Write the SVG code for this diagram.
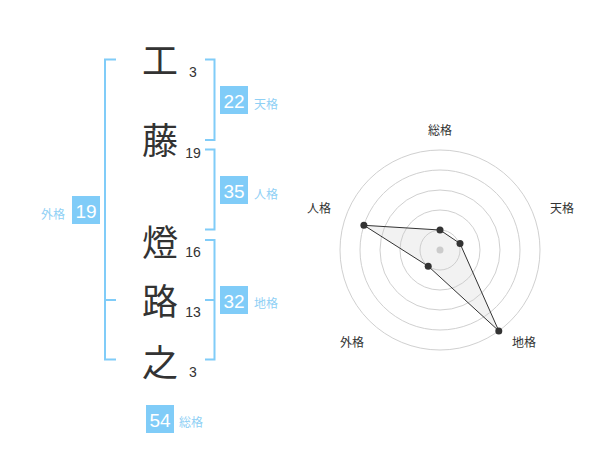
<svg xmlns="http://www.w3.org/2000/svg" width="600" height="470" viewBox="0 0 600 470">
<style>
.bg{fill:#fff}
.br{fill:none;stroke:#80ccf8;stroke-width:2}
.box{fill:#80ccf8}
.bn{font-family:"Liberation Sans","Noto Sans CJK JP",sans-serif;font-size:19px;fill:#fff;text-anchor:middle}
.bl{font-family:"Noto Sans CJK JP",sans-serif;font-size:12px;fill:#8fd0f5}
.ch{font-family:"Noto Sans CJK JP",sans-serif;font-size:36px;fill:#333;text-anchor:middle}
.sn{font-family:"Liberation Sans",sans-serif;font-size:14px;fill:#333;text-anchor:middle}
.ring{fill:none;stroke:#d0d0d0;stroke-width:1}
.rl{font-family:"Noto Sans CJK JP",sans-serif;font-size:12px;fill:#333;text-anchor:middle}
.pt{fill:#333}
</style>
<rect class="bg" x="0" y="0" width="600" height="470"/>
<g id="connectors">
<path class="br" d="M116,59.5 H105 V359.5 H116 M105,300 H116"/>
<path class="br" d="M205,59.5 H214.5 V140 H205"/>
<path class="br" d="M205,149.5 H214.5 V229.5 H205"/>
<path class="br" d="M205,240 H214.5 V359.5 H205 M205,300 H214.5"/>
</g>
<g id="char-1"><text class="ch" x="160" y="74">工</text><text class="sn" x="193" y="77">3</text></g>
<g id="char-2"><text class="ch" x="160" y="154">藤</text><text class="sn" x="193" y="157.5">19</text></g>
<g id="char-3"><text class="ch" x="160" y="256">燈</text><text class="sn" x="193" y="257">16</text></g>
<g id="char-4"><text class="ch" x="160" y="315">路</text><text class="sn" x="193" y="317">13</text></g>
<g id="char-5"><text class="ch" x="160" y="376">之</text><text class="sn" x="193" y="377">3</text></g>
<g id="tenkaku"><rect class="box" x="220" y="86" width="28" height="28"/><text class="bn" x="234" y="108">22</text><text class="bl" x="254" y="108.5">天格</text></g>
<g id="jinkaku"><rect class="box" x="220" y="176" width="28" height="28"/><text class="bn" x="234" y="198">35</text><text class="bl" x="254" y="198.5">人格</text></g>
<g id="chikaku"><rect class="box" x="220" y="286" width="28" height="28"/><text class="bn" x="234" y="308">32</text><text class="bl" x="254" y="308">地格</text></g>
<g id="gaikaku"><rect class="box" x="72" y="196" width="28" height="28"/><text class="bn" x="86" y="218">19</text><text class="bl" x="41" y="218.5">外格</text></g>
<g id="soukaku"><rect class="box" x="146" y="405" width="28" height="28"/><text class="bn" x="160" y="427">54</text><text class="bl" x="179" y="427">総格</text></g>
<g id="radar">
<circle class="ring" cx="440" cy="250" r="20"/>
<circle class="ring" cx="440" cy="250" r="40"/>
<circle class="ring" cx="440" cy="250" r="60"/>
<circle class="ring" cx="440" cy="250" r="80"/>
<circle class="ring" cx="440" cy="250" r="100"/>
<circle cx="440" cy="250" r="3.5" fill="#cccccc"/>
<polygon points="440,230 460,243.5 498.8,330.9 428.2,266.2 363.9,225.3" fill="#cccccc" fill-opacity="0.25" stroke="#333" stroke-width="1"/>
<circle class="pt" cx="440" cy="230" r="3.5"/>
<circle class="pt" cx="460" cy="243.5" r="3.5"/>
<circle class="pt" cx="498.8" cy="330.9" r="3.5"/>
<circle class="pt" cx="428.2" cy="266.2" r="3.5"/>
<circle class="pt" cx="363.9" cy="225.3" r="3.5"/>
<text class="rl" x="440" y="134.5">総格</text>
<text class="rl" x="562" y="212.5">天格</text>
<text class="rl" x="319" y="212.5">人格</text>
<text class="rl" x="352" y="346.5">外格</text>
<text class="rl" x="524" y="346.5">地格</text>
</g>
</svg>
